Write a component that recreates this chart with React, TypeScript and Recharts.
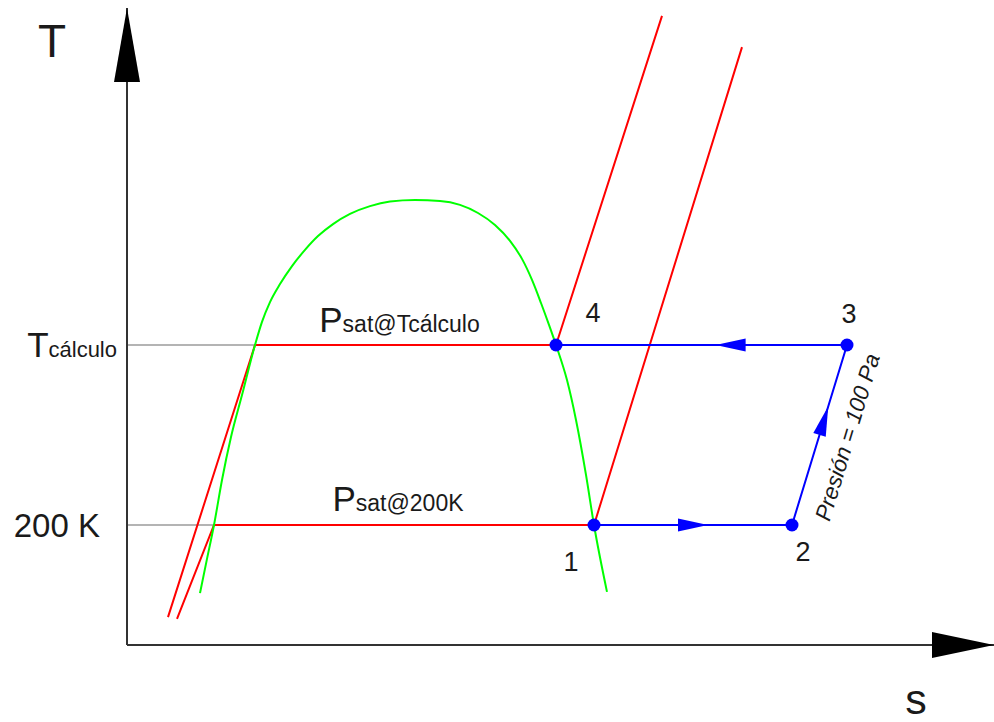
import React from "react";
import { ComposedChart, Line, Scatter, XAxis, YAxis } from "recharts";

const FONT = '"Liberation Sans", Arial, sans-serif';
const INK = "#1a1a1a";

// axis ranges: entropy s (kJ/kg·K) and temperature T (K)
const S_DOMAIN: [number, number] = [0, 8.67];
const T_DOMAIN: [number, number] = [160, 372.33];

const WIDTH = 994;
const HEIGHT = 722;
const Y_AXIS_W = 127;
const X_AXIS_H = 77;
const TOP = 8;

// saturation dome
const satDome = [
  { s: 0.73, T: 177.3 },
  { s: 0.8, T: 188.7 },
  { s: 0.87, T: 200 },
  { s: 0.95, T: 215 },
  { s: 1.04, T: 229.3 },
  { s: 1.15, T: 243.3 },
  { s: 1.28, T: 260 },
  { s: 1.35, T: 267.7 },
  { s: 1.43, T: 274.3 },
  { s: 1.53, T: 280.3 },
  { s: 1.65, T: 286.3 },
  { s: 1.78, T: 291.7 },
  { s: 1.91, T: 296.3 },
  { s: 2.06, T: 300.3 },
  { s: 2.23, T: 303.7 },
  { s: 2.43, T: 306.3 },
  { s: 2.63, T: 307.8 },
  { s: 2.88, T: 308.3 },
  { s: 3.13, T: 308 },
  { s: 3.33, T: 306.7 },
  { s: 3.51, T: 304 },
  { s: 3.68, T: 300 },
  { s: 3.83, T: 294.7 },
  { s: 3.95, T: 288.7 },
  { s: 4.05, T: 281.7 },
  { s: 4.14, T: 274 },
  { s: 4.22, T: 266.7 },
  { s: 4.29, T: 260 },
  { s: 4.4, T: 248.3 },
  { s: 4.49, T: 235 },
  { s: 4.59, T: 216.7 },
  { s: 4.67, T: 200 },
  { s: 4.8, T: 177.7 },
];

// isobars at Psat(Tcálculo) and Psat(200 K)
const isobarCalc = [
  { s: 0.41, T: 169.3 },
  { s: 1.28, T: 260 },
  { s: 4.29, T: 260 },
  { s: 5.35, T: 369.7 },
];
const isobarLow = [
  { s: 0.5, T: 168.7 },
  { s: 0.87, T: 200 },
  { s: 4.67, T: 200 },
  { s: 6.15, T: 359.3 },
];

// process 1 -> 2 -> 3 -> 4
const cycleStates = [
  { id: "1", s: 4.67, T: 200 },
  { id: "2", s: 6.65, T: 200 },
  { id: "3", s: 7.2, T: 260 },
  { id: "4", s: 4.29, T: 260 },
];

const tempTicks = [200, 260];
const tempTickLabels = ["200 K", "Tcálculo"];

const isobarNames = ["Psat@Tcálculo", "Psat@200K"];
const stepLabel = "Presión = 100 Pa";

// pixels per data unit, used only to orient arrowheads and rotated text
const pxPerS = (WIDTH - Y_AXIS_W) / (S_DOMAIN[1] - S_DOMAIN[0]);
const pxPerT = (HEIGHT - TOP - X_AXIS_H) / (T_DOMAIN[1] - T_DOMAIN[0]);

const guideCalc = [
  { s: S_DOMAIN[0], T: tempTicks[1] },
  { s: isobarCalc[1].s, T: tempTicks[1] },
];
const guideLow = [
  { s: S_DOMAIN[0], T: tempTicks[0] },
  { s: isobarLow[1].s, T: tempTicks[0] },
];

// arrowheads along each leg (fraction of the leg)
const flowArrows = [
  [0, 1, 0.5],
  [1, 2, 0.58],
  [2, 3, 0.4],
].map(([a, b, f]) => {
  const p = cycleStates[a];
  const q = cycleStates[b];
  return {
    s: p.s + (q.s - p.s) * f,
    T: p.T + (q.T - p.T) * f,
    ds: q.s - p.s,
    dT: q.T - p.T,
  };
});

const axisArrows = [
  { s: S_DOMAIN[1], T: T_DOMAIN[0], ds: 1, dT: 0, back: 62 },
  { s: S_DOMAIN[0], T: T_DOMAIN[1], ds: 0, dT: 1, back: 74 },
];

const labelAnchors = [
  { name: isobarNames[0], s: (isobarCalc[1].s + isobarCalc[2].s) / 2, T: isobarCalc[1].T, dy: -13 },
  { name: isobarNames[1], s: (isobarLow[1].s + isobarLow[2].s) / 2, T: isobarLow[1].T, dy: -14 },
];

const stepAnchor = [
  {
    s: (cycleStates[1].s + cycleStates[2].s) / 2,
    T: (cycleStates[1].T + cycleStates[2].T) / 2,
    ds: cycleStates[2].s - cycleStates[1].s,
    dT: cycleStates[2].T - cycleStates[1].T,
  },
];

const stateLabelOffset: Record<string, [number, number]> = {
  "1": [-23, 37],
  "2": [11, 27],
  "3": [2, -31],
  "4": [37, -32],
};

function unitVec(ds: number, dT: number) {
  const x = ds * pxPerS;
  const y = -dT * pxPerT;
  const l = Math.hypot(x, y);
  return [x / l, y / l];
}

function triangle(tx: number, ty: number, ux: number, uy: number, len: number, half: number) {
  const bx = tx - ux * len;
  const by = ty - uy * len;
  const px = -uy;
  const py = ux;
  return `M${tx},${ty} L${bx + px * half},${by + py * half} L${bx - px * half},${by - py * half} Z`;
}

const FlowArrow = (props: any) => {
  const { cx, cy, payload } = props;
  const [ux, uy] = unitVec(payload.ds, payload.dT);
  const tx = cx + ux * 15;
  const ty = cy + uy * 15;
  return <path d={triangle(tx, ty, ux, uy, 30, 6.5)} fill="#0000ff" />;
};

const AxisArrow = (props: any) => {
  const { cx, cy, payload } = props;
  const [ux, uy] = unitVec(payload.ds, payload.dT);
  return <path d={triangle(cx, cy, ux, uy, payload.back, 13)} fill="#000" />;
};

const StateDot = (props: any) => {
  const { cx, cy, payload } = props;
  const [dx, dy] = stateLabelOffset[payload.id];
  return (
    <g>
      <circle cx={cx} cy={cy} r={6.5} fill="#0000ff" />
      <text
        x={cx + dx}
        y={cy + dy}
        textAnchor="middle"
        dominantBaseline="central"
        fontFamily={FONT}
        fontSize={27}
        fill={INK}
      >
        {payload.id}
      </text>
    </g>
  );
};

const IsobarName = (props: any) => {
  const { cx, cy, payload } = props;
  const name: string = payload.name;
  return (
    <text x={cx - 6} y={cy + payload.dy} textAnchor="middle" fontFamily={FONT} fill={INK}>
      <tspan fontSize={35}>{name.charAt(0)}</tspan>
      <tspan fontSize={23}>{name.slice(1)}</tspan>
    </text>
  );
};

const StepName = (props: any) => {
  const { cx, cy, payload } = props;
  const [ux, uy] = unitVec(payload.ds, payload.dT);
  const angle = (Math.atan2(uy, ux) * 180) / Math.PI;
  return (
    <text
      transform={`translate(${cx},${cy}) rotate(${angle})`}
      x={6}
      y={35}
      textAnchor="middle"
      fontFamily={FONT}
      fontStyle="italic"
      fontSize={22.5}
      fill={INK}
    >
      {stepLabel}
    </text>
  );
};

const TempTick = (props: any) => {
  const { x, y, payload } = props;
  const label = tempTickLabels[tempTicks.indexOf(payload.value)];
  if (label === "200 K") {
    return (
      <text x={x - 27} y={y + 12} textAnchor="end" fontFamily={FONT} fontSize={33} fill={INK}>
        {label}
      </text>
    );
  }
  return (
    <text x={x - 10} y={y + 12} textAnchor="end" fontFamily={FONT} fill={INK}>
      <tspan fontSize={35}>{label.charAt(0)}</tspan>
      <tspan fontSize={22}>{label.slice(1)}</tspan>
    </text>
  );
};

export default function App() {
  return (
    <div style={{ position: "absolute", left: 0, top: 0, width: WIDTH, height: HEIGHT, background: "#fff" }}>
      <ComposedChart width={WIDTH} height={HEIGHT} margin={{ top: TOP, right: 0, bottom: 0, left: 0 }}>
        <XAxis
          type="number"
          dataKey="s"
          domain={S_DOMAIN}
          height={X_AXIS_H}
          tick={false}
          tickLine={false}
          axisLine={{ stroke: "#333", strokeWidth: 2 }}
          label={{
            content: () => (
              <text x={916} y={714} textAnchor="middle" fontFamily={FONT} fontSize={43} fill={INK}>
                s
              </text>
            ),
          }}
        />
        <YAxis
          type="number"
          dataKey="T"
          domain={T_DOMAIN}
          width={Y_AXIS_W}
          ticks={tempTicks}
          tick={<TempTick />}
          tickLine={false}
          tickSize={0}
          tickMargin={0}
          axisLine={{ stroke: "#333", strokeWidth: 2 }}
          label={{
            content: () => (
              <text x={52} y={57} textAnchor="middle" fontFamily={FONT} fontSize={46} fill={INK}>
                T
              </text>
            ),
          }}
        />

        <Line data={guideCalc} dataKey="T" stroke="#b4b4b4" strokeWidth={2} dot={false} activeDot={false} isAnimationActive={false} />
        <Line data={guideLow} dataKey="T" stroke="#b4b4b4" strokeWidth={2} dot={false} activeDot={false} isAnimationActive={false} />

        <Line data={isobarCalc} dataKey="T" type="linear" stroke="#ff0000" strokeWidth={2} dot={false} activeDot={false} isAnimationActive={false} />
        <Line data={isobarLow} dataKey="T" type="linear" stroke="#ff0000" strokeWidth={2} dot={false} activeDot={false} isAnimationActive={false} />

        <Line data={satDome} dataKey="T" type="monotone" stroke="#00ff00" strokeWidth={2} dot={false} activeDot={false} isAnimationActive={false} />

        <Line data={cycleStates} dataKey="T" type="linear" stroke="#0000ff" strokeWidth={2} dot={false} activeDot={false} isAnimationActive={false} />

        <Scatter data={flowArrows} dataKey="T" shape={FlowArrow} isAnimationActive={false} />
        <Scatter data={cycleStates} dataKey="T" shape={StateDot} isAnimationActive={false} />
        <Scatter data={axisArrows} dataKey="T" shape={AxisArrow} isAnimationActive={false} />
        <Scatter data={labelAnchors} dataKey="T" shape={IsobarName} isAnimationActive={false} />
        <Scatter data={stepAnchor} dataKey="T" shape={StepName} isAnimationActive={false} />
      </ComposedChart>
    </div>
  );
}
